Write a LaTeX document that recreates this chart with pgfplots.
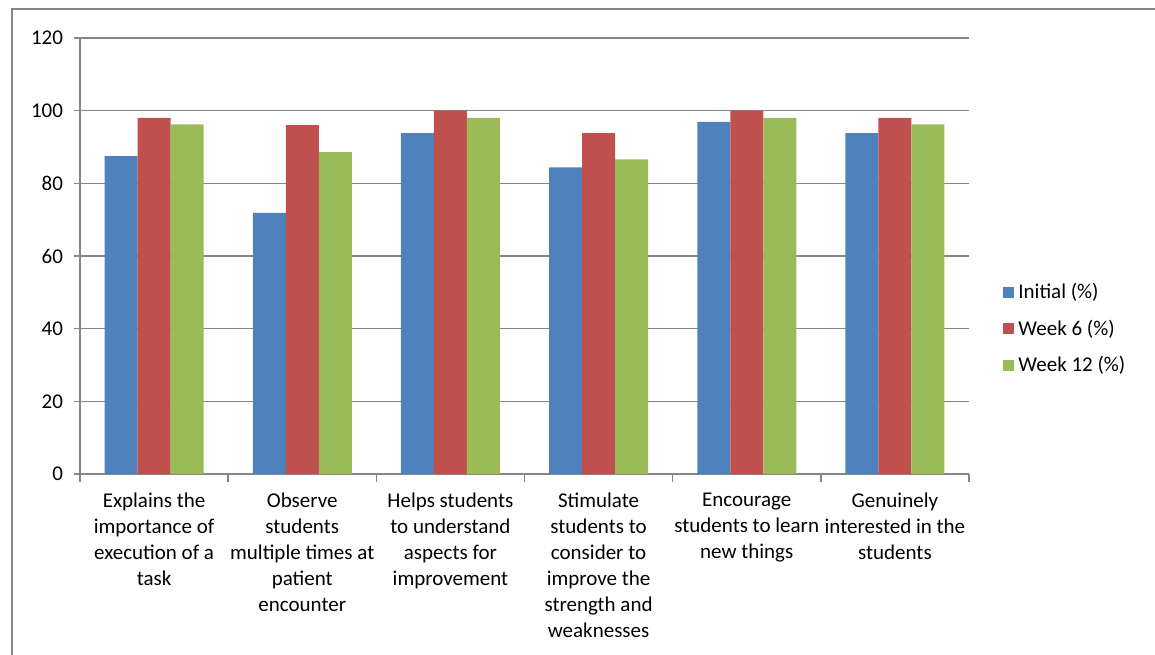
\documentclass[border=0pt]{standalone}
\usepackage{fontspec}
\setmainfont{Carlito}
\usepackage{pgfplots}
\pgfplotsset{compat=1.18}
\definecolor{cInit}{RGB}{79,129,189}
\definecolor{cW6}{RGB}{192,80,77}
\definecolor{cW12}{RGB}{155,187,89}
\definecolor{gridc}{RGB}{134,134,134}
\begin{document}
\begin{tikzpicture}
\path[use as bounding box] (0,0) rectangle (577.5pt,-327pt);
\draw[gridc, line width=0.8pt] (6pt,-330pt) -- (6pt,-4.5pt) -- (580pt,-4.5pt);
\begin{axis}[
  at={(40pt,-237pt)}, anchor=south west,
  scale only axis,
  width=444.5pt, height=218pt,
  ybar=0pt, bar width=16.5pt,
  xmin=-0.5, xmax=5.5,
  ymin=0, ymax=120,
  ytick={0,20,...,120},
  xtick={0,...,5},
  minor xtick={-0.5,0.5,...,5.5},
  xticklabels={
    {Explains the\\importance of\\execution of a\\task},
    {Observe\\students\\multiple times at\\patient\\encounter},
    {Helps students\\to understand\\aspects for\\improvement},
    {Stimulate\\students to\\consider to\\improve the\\strength and\\weaknesses},
    {Encourage\\students to learn\\new things},
    {Genuinely\\interested in the\\students}},
  xticklabel style={align=center, font=\fontsize{10.5}{13}\selectfont, yshift=-3pt},
  yticklabel style={font=\fontsize{10.5}{13}\selectfont, xshift=-2pt},
  /pgf/number format/assume math mode=true,
  axis x line*=bottom, axis y line*=left,
  axis line style={gridc, line width=0.8pt, -},
  tick align=outside,
  major x tick style={draw=none},
  minor x tick style={gridc, line width=0.8pt},
  minor tick length=4pt,
  major y tick style={gridc, line width=0.8pt},
  major tick length=3pt,
  ymajorgrids,
  major grid style={gridc, line width=0.8pt},
  legend style={at={(1,0.333)}, anchor=west, xshift=14pt, draw=none,
    font=\fontsize{10.5}{13}\selectfont, row sep=5pt,
    legend cell align=left},
  legend image code/.code={\fill[#1] (0pt,-2.75pt) rectangle (5.5pt,2.75pt);},
]
\addplot[fill=cInit, draw=none] coordinates {(0,87.5)(1,71.9)(2,93.8)(3,84.4)(4,96.9)(5,93.8)};
\addlegendentry{Initial (\%)}
\addplot[fill=cW6, draw=none] coordinates {(0,98)(1,96)(2,100)(3,93.8)(4,100)(5,98)};
\addlegendentry{Week 6 (\%)}
\addplot[fill=cW12, draw=none] coordinates {(0,96.2)(1,88.6)(2,98)(3,86.6)(4,98)(5,96.2)};
\addlegendentry{Week 12 (\%)}
\end{axis}
\end{tikzpicture}
\end{document}
